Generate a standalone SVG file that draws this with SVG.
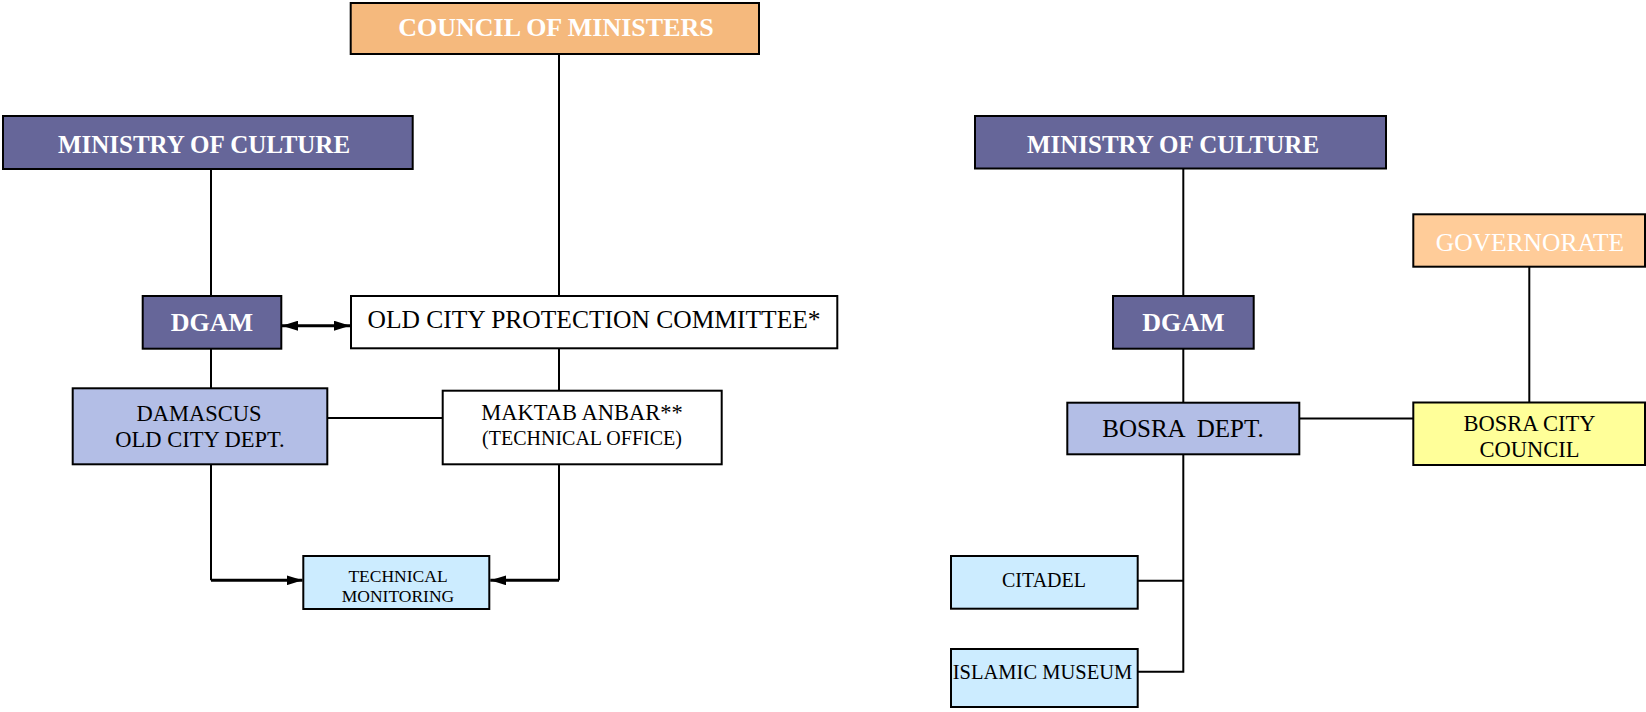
<svg xmlns="http://www.w3.org/2000/svg" width="1646" height="712" viewBox="0 0 1646 712">
<defs>
<style>
.box{stroke:#000;stroke-width:2}
.t{font-family:"Liberation Serif","Times New Roman",serif;text-anchor:middle}
.w{fill:#fff}
.k{fill:#000}
.b{font-weight:bold}
.ln{stroke:#000;stroke-width:2;fill:none}
.thick{stroke:#000;stroke-width:3;fill:none}
</style>
<marker id="ah" viewBox="0 0 16 10" refX="16" refY="5" markerWidth="16" markerHeight="10" markerUnits="userSpaceOnUse" orient="auto-start-reverse">
<path d="M0,0 L16,5 L0,10 Z" fill="#000"/>
</marker>
</defs>
<rect width="1646" height="712" fill="#fff"/>
<g id="connectors">
<line class="ln" x1="559" y1="54" x2="559" y2="296"/>
<line class="ln" x1="211" y1="169" x2="211" y2="296"/>
<line class="thick" x1="282" y1="325.7" x2="350" y2="325.7" marker-start="url(#ah)" marker-end="url(#ah)"/>
<line class="ln" x1="211" y1="348.7" x2="211" y2="388.3"/>
<line class="ln" x1="559" y1="348.3" x2="559" y2="390.7"/>
<line class="ln" x1="327.3" y1="418" x2="442.7" y2="418"/>
<path class="ln" d="M211,464.3 V580.3"/>
<path class="thick" d="M211,580.3 H302.5" marker-end="url(#ah)"/>
<path class="ln" d="M559,464.3 V580.3"/>
<path class="thick" d="M559,580.3 H490.3" marker-end="url(#ah)"/>
<line class="ln" x1="1183.3" y1="168.5" x2="1183.3" y2="296"/>
<line class="ln" x1="1183.3" y1="348.7" x2="1183.3" y2="402.7"/>
<path class="ln" d="M1183.3,454.3 V671.7 H1137.7 M1137.7,580.7 H1183.3"/>
<line class="ln" x1="1299.3" y1="418.5" x2="1413.3" y2="418.5"/>
<line class="ln" x1="1529.3" y1="266.7" x2="1529.3" y2="402.5"/>
</g>
<g id="council">
<rect class="box" x="350.7" y="3" width="408.3" height="51" fill="#F5B97D"/>
<text class="t w b" x="556" y="36" font-size="26">COUNCIL OF MINISTERS</text>
</g>
<g id="ministry-left">
<rect class="box" x="3" y="116" width="409.7" height="53" fill="#666699"/>
<text class="t w b" x="204" y="153" font-size="25">MINISTRY OF CULTURE</text>
</g>
<g id="dgam-left">
<rect class="box" x="142.7" y="296" width="138.6" height="52.7" fill="#666699"/>
<text class="t w b" x="212" y="331" font-size="26">DGAM</text>
</g>
<g id="ocpc">
<rect class="box" x="351" y="296" width="486.3" height="52.3" fill="#fff"/>
<text class="t k" x="594" y="328.3" font-size="25.5">OLD CITY PROTECTION COMMITTEE*</text>
</g>
<g id="damascus">
<rect class="box" x="72.7" y="388.3" width="254.6" height="76" fill="#B3BEE6"/>
<text class="t k" x="199" y="420.7" font-size="22.5">DAMASCUS</text>
<text class="t k" x="200" y="446.7" font-size="22.5">OLD CITY DEPT.</text>
</g>
<g id="maktab">
<rect class="box" x="442.7" y="390.7" width="279" height="73.6" fill="#fff"/>
<text class="t k" x="582" y="420" font-size="22.5">MAKTAB ANBAR**</text>
<text class="t k" x="582" y="445" font-size="20">(TECHNICAL OFFICE)</text>
</g>
<g id="tech-monitoring">
<rect class="box" x="303.3" y="556" width="186" height="53" fill="#CCECFF"/>
<text class="t k" x="398" y="581.7" font-size="17.5">TECHNICAL</text>
<text class="t k" x="398" y="601.7" font-size="17.5">MONITORING</text>
</g>
<g id="ministry-right">
<rect class="box" x="975" y="116" width="411" height="52.5" fill="#666699"/>
<text class="t w b" x="1173" y="153" font-size="25">MINISTRY OF CULTURE</text>
</g>
<g id="dgam-right">
<rect class="box" x="1113" y="296" width="140.7" height="52.7" fill="#666699"/>
<text class="t w b" x="1183.3" y="330.7" font-size="26">DGAM</text>
</g>
<g id="bosra-dept">
<rect class="box" x="1067.3" y="402.7" width="232" height="51.6" fill="#B3BEE6"/>
<text class="t k" x="1183" y="436.7" font-size="25" xml:space="preserve" style="white-space:pre">BOSRA  DEPT.</text>
</g>
<g id="governorate">
<rect class="box" x="1413.3" y="214.3" width="231.7" height="52.4" fill="#FFCC99"/>
<text class="t w" x="1530" y="250.7" font-size="25.5">GOVERNORATE</text>
</g>
<g id="bosra-city-council">
<rect class="box" x="1413.3" y="402.5" width="231.7" height="62.5" fill="#FFFF99"/>
<text class="t k" x="1529.5" y="430.7" font-size="22.5">BOSRA CITY</text>
<text class="t k" x="1529.5" y="456.7" font-size="22.5">COUNCIL</text>
</g>
<g id="citadel">
<rect class="box" x="951" y="556" width="186.7" height="52.7" fill="#CCECFF"/>
<text class="t k" x="1044" y="586.7" font-size="20">CITADEL</text>
</g>
<g id="islamic-museum">
<rect class="box" x="951" y="649" width="186.7" height="58" fill="#CCECFF"/>
<text class="t k" x="1042.5" y="679.3" font-size="20.5">ISLAMIC MUSEUM</text>
</g>
</svg>
